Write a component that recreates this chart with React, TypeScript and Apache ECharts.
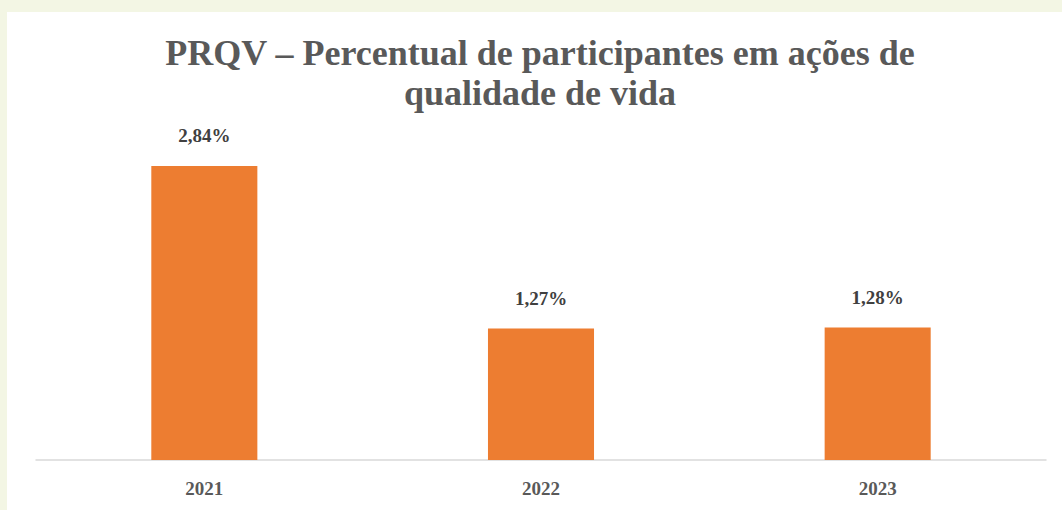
import React, { useEffect, useRef } from "react";
import * as echarts from "echarts";

const titleLines = ["PRQV – Percentual de participantes em ações de", "qualidade de vida"];
const categories = ["2021", "2022", "2023"];
const values = [2.84, 1.27, 1.28];
const labels = ["2,84%", "1,27%", "1,28%"];

const FONT = "'Liberation Serif', 'DejaVu Serif', serif";

export default function App() {
  const ref = useRef<HTMLDivElement>(null);
  useEffect(() => {
    if (!ref.current) return;
    const chart = echarts.init(ref.current, null, { renderer: "svg" });
    chart.setOption({
      animation: false,
      backgroundColor: "#f3f6e4",
      graphic: [
        { type: "rect", z: -10, shape: { x: 7, y: 12, width: 1062 - 7, height: 510 - 12 }, style: { fill: "#ffffff" } },
        ...titleLines.map((t, i) => ({
          type: "text",
          x: 540,
          y: 53 + i * 40,
          style: {
            text: t,
            fontFamily: FONT,
            fontWeight: "bold",
            fontSize: 36,
            fill: "#595959",
            align: "center",
            verticalAlign: "middle",
          },
        })),
      ],
      grid: { left: 36, right: 16, top: 149.5, bottom: 50, containLabel: false },
      xAxis: {
        type: "category",
        data: categories,
        axisLine: { show: true, lineStyle: { color: "#d9d9d9", width: 1.5 } },
        axisTick: { show: false },
        axisLabel: { fontFamily: FONT, fontWeight: "bold", fontSize: 19, color: "#595959", margin: 19 },
      },
      yAxis: { type: "value", min: 0, max: 3, show: false, splitLine: { show: false } },
      series: [
        {
          type: "bar",
          data: values,
          barWidth: "31.5%",
          itemStyle: { color: "#ed7d31" },
          label: {
            show: true,
            position: "top",
            distance: 21,
            formatter: (p: any) => labels[p.dataIndex],
            fontFamily: FONT,
            fontWeight: "bold",
            fontSize: 19,
            color: "#404040",
          },
        },
      ],
    });
    return () => chart.dispose();
  }, []);
  return <div ref={ref} style={{ position: "fixed", left: 0, top: 0, width: 1062, height: 510 }} />;
}
